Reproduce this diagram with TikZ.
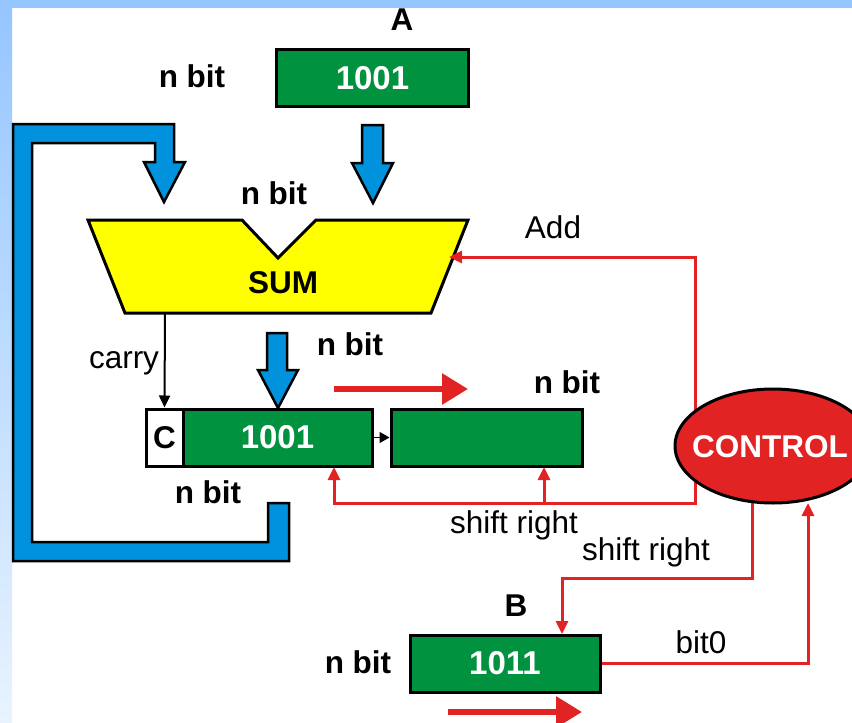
\documentclass[tikz,border=0pt]{standalone}
\usepackage{fontspec}
\setmainfont{Liberation Sans}
\usetikzlibrary{arrows.meta,shapes.geometric}
\definecolor{regG}{RGB}{0,146,63}
\definecolor{sumY}{RGB}{255,255,0}
\definecolor{sigR}{RGB}{225,35,35}
\definecolor{busB}{RGB}{0,146,221}
\definecolor{bgB}{RGB}{150,198,255}
\definecolor{bgL}{RGB}{232,243,255}
\begin{document}
\begin{tikzpicture}[x=1pt,y=-1pt,
  bold/.style={font=\fontsize{31.5}{36}\selectfont\bfseries, inner sep=0pt, anchor=base},
  plain/.style={font=\fontsize{31.5}{36}\selectfont, inner sep=0pt, anchor=base},
  reg/.style={draw=black, line width=3pt, fill=regG, inner sep=0pt, text=white, font=\fontsize{33}{36}\selectfont\bfseries},
  sig/.style={draw=sigR, line width=3pt, -{Triangle[length=13pt,width=12pt]}},
  bus/.style={draw=black, line width=2.5pt, fill=busB, line join=miter},
  shiftarrow/.style={draw=sigR, line width=6pt, -{Triangle[length=26pt,width=30pt]}},
  blk/.style={draw=black, line width=2pt, -{Triangle[length=12pt,width=11pt]}}
]
\useasboundingbox (0,0) rectangle (852,723);
\clip (0,0) rectangle (852,723);
\fill[white] (0,0) rectangle (852,723);
\fill[bgB] (0,0) rectangle (852,8);
\shade[top color=bgB, bottom color=bgL] (0,8) rectangle (12,723);

% register A
\node[bold] (Alab) at (402,30) {A};
\node[bold] (nA) at (192,87) {n bit};
\node[reg, minimum width=192pt, minimum height=57pt] (A) at (372.5,78) {1001};

% blue bus arrow A -> SUM
\draw[bus] (362,125) -- (383,125) -- (383,163) -- (393,163) -- (373,203) -- (352,163) -- (362,163) -- cycle;

% feedback bus
\draw[bus] (268,503) -- (268,542) -- (32,542) -- (32,143) -- (155,143) -- (155,162) -- (144,162) -- (164,202) -- (185,162) -- (174,162) -- (174,124) -- (13,124) -- (13,561) -- (289,561) -- (289,503) -- cycle;

% SUM
\draw[black, line width=3pt, fill=sumY, line join=miter] (88,220) -- (242,220) -- (278,258) -- (316,220) -- (468,220) -- (431,313) -- (125,313) -- cycle;
\node[bold] (sum) at (283,293) {SUM};
\node[bold] (nsum) at (274,204) {n bit};

% register row
\node[draw=black, line width=3pt, fill=white, minimum width=37pt, minimum height=57pt, inner sep=0pt, font=\fontsize{31.5}{36}\selectfont\bfseries] (C) at (164.5,437.5) {C};
\node[reg, minimum width=189pt, minimum height=57pt] (R1) at (277.5,437.5) {1001};
\node[reg, minimum width=191pt, minimum height=57pt] (R2) at (486.5,437.5) {};

\coordinate (carrys) at (165,313);
\draw[blk] (carrys) -- (C.north);
\node[plain] (carry) at (124,368) {carry};

\draw[bus] (267,333) -- (287,333) -- (287,370) -- (298,370) -- (278,408) -- (258,370) -- (267,370) -- cycle;
\draw[blk, line width=1.5pt, -{Triangle[length=10pt,width=11pt]}] (R1.east) -- (R2.west);

\draw[shiftarrow] (334,389) -- (468,389);
\node[bold] (n1) at (350,355) {n bit};
\node[bold] (n2) at (567,393) {n bit};
\node[bold] (n3) at (208,503) {n bit};

% control signals
\coordinate (cl) at (695,446);
\coordinate (cb) at (752,446);
\draw[sig] (cl) -- (695,257) -- (449,257);
\draw[sig] (cl) -- (695,503) -- (334,503) -- (334,467);
\draw[sig] (544,503) -- (544,467);
\node[plain] (add) at (553,238) {Add};
\node[plain] (sr1) at (514,533) {shift right};

% register B
\node[reg, minimum width=190pt, minimum height=57pt] (B) at (505,663.5) {1011};
\node[bold] (Blab) at (516,616) {B};
\node[bold] (nB) at (358,673) {n bit};
\draw[sig] (cb) -- (752,578) -- (562,578) -- (562,634);
\draw[sig] (B.east) -- (808,663.5) -- (808,503);
\node[plain] (sr2) at (646,560) {shift right};
\node[plain] (bit0) at (701,653) {bit0};
\draw[shiftarrow] (448,712) -- (582,712);

% control
\node[ellipse, draw=black, line width=3pt, fill=sigR, minimum width=196pt, minimum height=114pt, inner sep=0pt] (ctl) at (773,446) {};
\node[bold, text=white] (ctltext) at (770,457) {CONTROL};
\end{tikzpicture}
\end{document}
